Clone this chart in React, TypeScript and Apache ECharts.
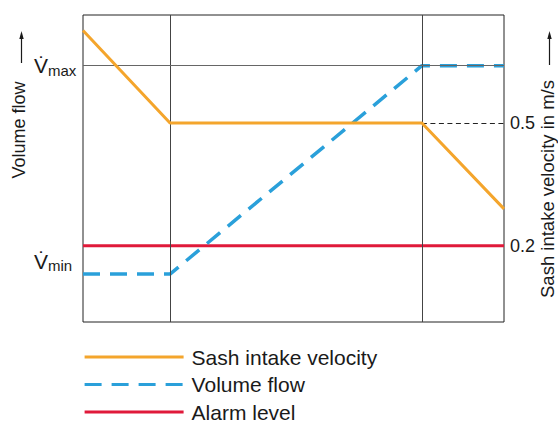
import React, { useEffect, useRef } from "react";
import * as echarts from "echarts";

// x positions (relative sash opening, 0..100)
const breakX = [20.67, 80.5];
const sashX = [0, 20.67, 80.5, 100];
const sashVelocity = [0.726, 0.5, 0.5, 0.29];
const VMIN = 15.6;
const VMAX = 83.5;
const volumeX = [0, 20.67, 80.5, 100];
const volumeFlow = [VMIN, VMIN, VMAX, VMAX];
const alarmX = [0, 100];
const alarmLevel = [0.2, 0.2];
const velocityTicks = [0.2, 0.5];
const volumeTicks = [VMIN, VMAX];
const seriesNames = ["Sash intake velocity", "Volume flow", "Alarm level"];

const FONT = "'Liberation Sans', Arial, Helvetica, sans-serif";
const ORANGE = "#F4A52C";
const BLUE = "#2AA0DA";
const RED = "#E0193A";
const INK = "#1a1a1a";

export default function App() {
  const ref = useRef<HTMLDivElement>(null);
  useEffect(() => {
    if (!ref.current) return;
    const chart = echarts.init(ref.current, null, { renderer: "svg" });
    const zip = (xs: number[], ys: number[]) => xs.map((x, i) => [x, ys[i]]);
    chart.setOption({
      animation: false,
      textStyle: { fontFamily: FONT },
      grid: {
        left: 83,
        top: 15,
        width: 421,
        height: 307,
        show: true,
        borderColor: "#222",
        borderWidth: 1,
      },
      xAxis: {
        type: "value",
        min: 0,
        max: 100,
        axisLine: { show: false },
        axisTick: { show: false },
        axisLabel: { show: false },
        splitLine: { show: false },
      },
      yAxis: [
        {
          type: "value",
          min: 0,
          max: 100,
          position: "left",
          axisLine: { show: false },
          axisTick: { show: false },
          splitLine: { show: false },
          axisLabel: {
            customValues: volumeTicks,
            align: "left",
            margin: 49,
            color: INK,
            formatter: (v: number) =>
              v === VMAX ? "{V|V\u0307}{s|max}" : "{V|V\u0307}{s|min}\n{gap| }",
            rich: {
              V: { fontSize: 21, lineHeight: 24, fontFamily: FONT, color: INK, verticalAlign: "middle" },
              s: { fontSize: 15, lineHeight: 15, fontFamily: FONT, color: INK, verticalAlign: "bottom" },
              gap: { fontSize: 10, lineHeight: 26 },
            },
          },
        },
        {
          type: "value",
          min: 0.0134,
          max: 0.764,
          position: "right",
          axisLine: { show: false },
          axisTick: { show: false },
          splitLine: { show: false },
          axisLabel: {
            customValues: velocityTicks,
            margin: 6,
            fontSize: 18,
            color: INK,
            fontFamily: FONT,
            formatter: (v: number) => v.toFixed(1),
          },
        },
      ],
      legend: {
        data: seriesNames,
        orient: "vertical",
        left: 83,
        top: 346,
        height: 120,
        padding: 0,
        itemWidth: 99,
        itemHeight: 18,
        itemGap: 5.5,
        textStyle: { fontSize: 21, lineHeight: 22, color: INK, fontFamily: FONT, padding: [0, 0, 0, 3] },
        itemStyle: { opacity: 0 },
        lineStyle: { width: 3.2 },
        selectedMode: false,
      },
      graphic: [
        {
          type: "text",
          x: 19,
          y: 130,
          rotation: Math.PI / 2,
          style: { text: "Volume flow", font: `18px ${FONT}`, fill: INK, align: "center", verticalAlign: "middle" },
        },
        { type: "line", shape: { x1: 21.5, y1: 63, x2: 21.5, y2: 37 }, style: { stroke: INK, lineWidth: 1.2 } },
        { type: "polygon", shape: { points: [[21.5, 31], [19.3, 39], [23.7, 39]] }, style: { fill: INK } },
        {
          type: "text",
          x: 547.5,
          y: 189,
          rotation: Math.PI / 2,
          style: { text: "Sash intake velocity in m/s", font: `18.5px ${FONT}`, fill: INK, align: "center", verticalAlign: "middle" },
        },
        { type: "line", shape: { x1: 549.5, y1: 65, x2: 549.5, y2: 37 }, style: { stroke: INK, lineWidth: 1.2 } },
        { type: "polygon", shape: { points: [[549.5, 31], [547.3, 39], [551.7, 39]] }, style: { fill: INK } },
      ],
      series: [
        {
          name: "guides",
          type: "line",
          data: [],
          yAxisIndex: 1,
          silent: true,
          markLine: {
            silent: true,
            symbol: ["none", "none"],
            label: { show: false },
            emphasis: { disabled: true },
            lineStyle: { color: "#444", width: 1, type: "solid" },
            data: breakX.map((x) => ({ xAxis: x })),
          },
        },
        {
          name: "Volume flow guide",
          type: "line",
          data: [],
          yAxisIndex: 0,
          silent: true,
          markLine: {
            silent: true,
            symbol: ["none", "none"],
            label: { show: false },
            emphasis: { disabled: true },
            lineStyle: { color: "#666", width: 1.2, type: "solid" },
            data: [{ yAxis: VMAX }],
          },
        },
        {
          name: "Velocity guide",
          type: "line",
          data: [],
          yAxisIndex: 1,
          silent: true,
          markLine: {
            silent: true,
            symbol: ["none", "none"],
            label: { show: false },
            emphasis: { disabled: true },
            lineStyle: { color: "#222", width: 1, type: [5, 3.5] },
            data: [[{ coord: [breakX[1], velocityTicks[1]] }, { coord: [100, velocityTicks[1]] }]],
          },
        },
        {
          name: seriesNames[2],
          type: "line",
          yAxisIndex: 1,
          symbol: "none",
          color: RED,
          lineStyle: { color: RED, width: 3 },
          data: zip(alarmX, alarmLevel),
          z: 3,
        },
        {
          name: seriesNames[1],
          type: "line",
          yAxisIndex: 0,
          symbol: "none",
          color: BLUE,
          lineStyle: { color: BLUE, width: 3.5, type: [17, 10] },
          data: zip(volumeX, volumeFlow),
          z: 4,
        },
        {
          name: seriesNames[0],
          type: "line",
          yAxisIndex: 1,
          symbol: "none",
          color: ORANGE,
          lineStyle: { color: ORANGE, width: 3 },
          data: zip(sashX, sashVelocity),
          z: 5,
        },
      ],
    });
    return () => chart.dispose();
  }, []);
  return <div ref={ref} style={{ width: 558, height: 423, position: "absolute", left: 0, top: 0 }} />;
}
